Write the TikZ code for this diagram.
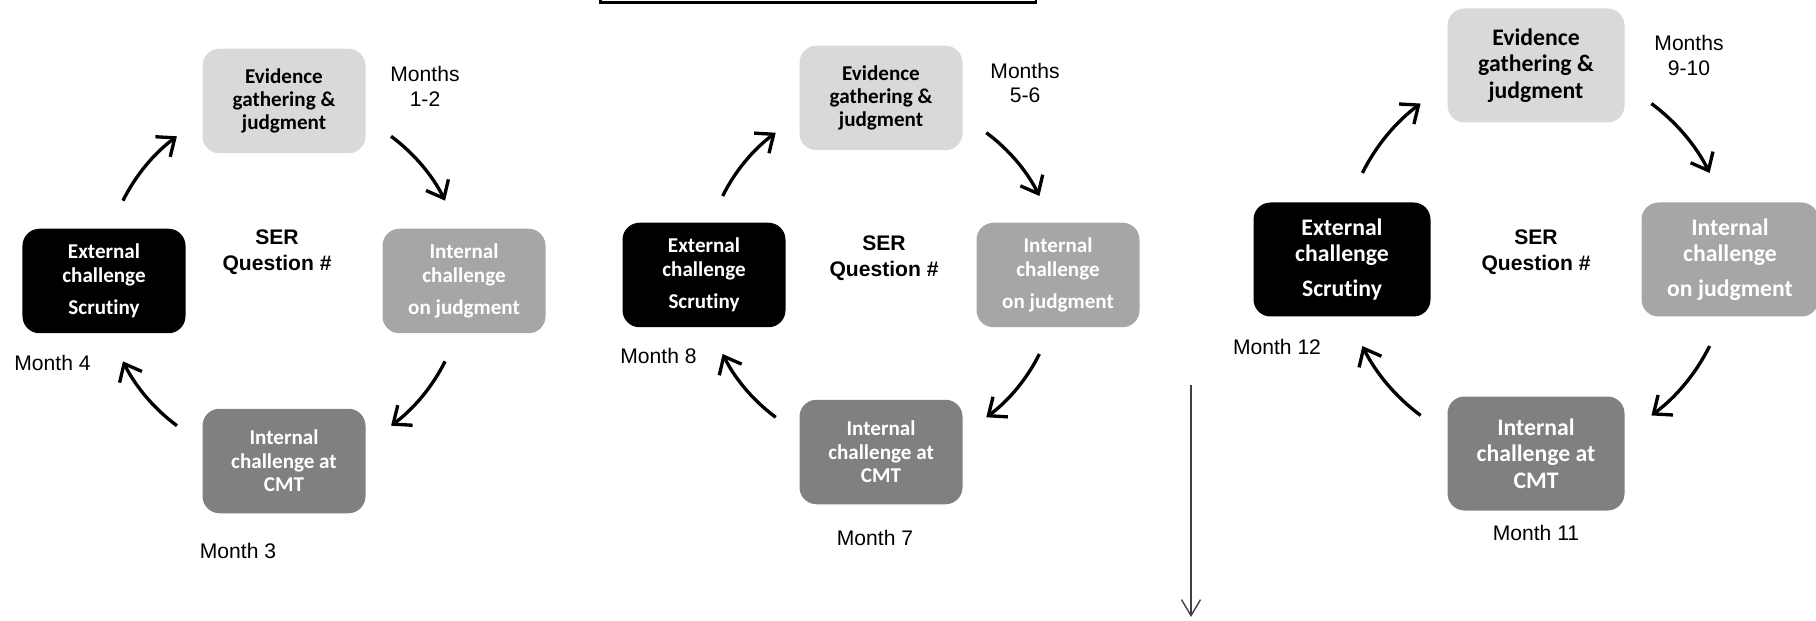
\documentclass[tikz,border=0pt]{standalone}
\usepackage{fontspec}
\setmainfont{Liberation Sans}
\newfontfamily\boxfont{Carlito}[Ligatures=NoCommon]
\usetikzlibrary{arrows.meta}
\definecolor{evigray}{RGB}{217,217,217}
\definecolor{intgray}{RGB}{166,166,166}
\definecolor{cmtgray}{RGB}{128,128,128}

\begin{document}
\begin{tikzpicture}[
    stagebox/.style={rounded corners=0.34cm, align=center, inner sep=0pt,
        minimum width=3.26cm, minimum height=2.09cm,
        font=\boxfont\bfseries\fontsize{12}{13.3}\selectfont},
    bigstage/.style={stagebox, minimum width=3.54cm, minimum height=2.28cm,
        font=\boxfont\bfseries\fontsize{13.5}{15}\selectfont},
    evidence/.style={fill=evigray, text=black},
    internal/.style={fill=intgray, text=white},
    cmt/.style={fill=cmtgray, text=white},
    external/.style={fill=black, text=white},
    monthlabel/.style={align=center, font=\fontsize{12}{14}\selectfont},
    sertext/.style={align=center, font=\bfseries\fontsize{12}{15}\selectfont},
    turnarrow/.style={line width=1.9pt, -{Straight Barb[length=3mm,width=5mm]}}
]
    \useasboundingbox (0,0) rectangle (36.32,-12.42);
    % Draw heading box (cut at the top)
    \draw[line width=1.6pt] (12.01,1) rectangle (20.72,-0.05);

    % Draw first cycle
    \coordinate (c1) at (5.68,-5.62);
    \node[stagebox,evidence] (evi1) at ([yshift=3.6cm]c1) {Evidence\\gathering \&\\judgment};
    \node[stagebox,internal] (int1) at ([xshift=3.6cm]c1) {Internal\\challenge\\[5pt]on judgment};
    \node[stagebox,cmt] (cmt1) at ([yshift=-3.6cm]c1) {Internal\\challenge at\\CMT};
    \node[stagebox,external] (ext1) at ([xshift=-3.6cm]c1) {External\\challenge\\[5pt]Scrutiny};
    \node[sertext] (ser1) at (5.54,-5.04) {SER\\Question \#};
    \node[monthlabel] (mon1) at (8.5,-1.73) {Months\\1-2};
    \node[monthlabel] (mon3) at (4.76,-11.02) {Month 3};
    \node[monthlabel] (mon4) at (1.05,-7.26) {Month 4};
    \draw[turnarrow] ([shift={(153.5:3.6)}]c1) arc[start angle=153.5, end angle=126.5, radius=3.6];
    \draw[turnarrow] ([shift={(53.5:3.6)}]c1) arc[start angle=53.5, end angle=26.5, radius=3.6];
    \draw[turnarrow] ([shift={(-26.5:3.6)}]c1) arc[start angle=-26.5, end angle=-53.5, radius=3.6];
    \draw[turnarrow] ([shift={(-126.5:3.6)}]c1) arc[start angle=-126.5, end angle=-153.5, radius=3.6];

    % Draw second cycle
    \coordinate (c2) at (17.62,-5.5);
    \node[stagebox,evidence] (evi2) at ([yshift=3.54cm]c2) {Evidence\\gathering \&\\judgment};
    \node[stagebox,internal] (int2) at ([xshift=3.54cm]c2) {Internal\\challenge\\[5pt]on judgment};
    \node[stagebox,cmt] (cmt2) at ([yshift=-3.54cm]c2) {Internal\\challenge at\\CMT};
    \node[stagebox,external] (ext2) at ([xshift=-3.54cm]c2) {External\\challenge\\[5pt]Scrutiny};
    \node[sertext] (ser2) at (17.68,-5.16) {SER\\Question \#};
    \node[monthlabel] (mon56) at (20.5,-1.66) {Months\\5-6};
    \node[monthlabel] (mon7) at (17.5,-10.76) {Month 7};
    \node[monthlabel] (mon8) at (13.17,-7.12) {Month 8};
    \draw[turnarrow] ([shift={(153.5:3.54)}]c2) arc[start angle=153.5, end angle=126.5, radius=3.54];
    \draw[turnarrow] ([shift={(53.5:3.54)}]c2) arc[start angle=53.5, end angle=26.5, radius=3.54];
    \draw[turnarrow] ([shift={(-26.5:3.54)}]c2) arc[start angle=-26.5, end angle=-53.5, radius=3.54];
    \draw[turnarrow] ([shift={(-126.5:3.54)}]c2) arc[start angle=-126.5, end angle=-153.5, radius=3.54];

    % Draw time arrow
    \coordinate (flowtop) at (23.82,-7.7);
    \coordinate (flowend) at (23.82,-12.34);
    \draw[line width=0.8pt, draw=black!75, -{Straight Barb[length=3.2mm,width=3.8mm]}] (flowtop) -- (flowend);

    % Draw third cycle
    \coordinate (c3) at (30.72,-5.19);
    \node[bigstage,evidence] (evi3) at ([yshift=3.88cm]c3) {Evidence\\gathering \&\\judgment};
    \node[bigstage,internal] (int3) at ([xshift=3.88cm]c3) {Internal\\challenge\\[5pt]on judgment};
    \node[bigstage,cmt] (cmt3) at ([yshift=-3.88cm]c3) {Internal\\challenge at\\CMT};
    \node[bigstage,external] (ext3) at ([xshift=-3.88cm]c3) {External\\challenge\\[5pt]Scrutiny};
    \node[sertext] (ser3) at (30.72,-5.04) {SER\\Question \#};
    \node[monthlabel] (mon910) at (33.78,-1.11) {Months\\9-10};
    \node[monthlabel] (mon11) at (30.72,-10.66) {Month 11};
    \node[monthlabel] (mon12) at (25.54,-6.94) {Month 12};
    \draw[turnarrow] ([shift={(153.5:3.88)}]c3) arc[start angle=153.5, end angle=126.5, radius=3.88];
    \draw[turnarrow] ([shift={(53.5:3.88)}]c3) arc[start angle=53.5, end angle=26.5, radius=3.88];
    \draw[turnarrow] ([shift={(-26.5:3.88)}]c3) arc[start angle=-26.5, end angle=-53.5, radius=3.88];
    \draw[turnarrow] ([shift={(-126.5:3.88)}]c3) arc[start angle=-126.5, end angle=-153.5, radius=3.88];
\end{tikzpicture}
\end{document}
